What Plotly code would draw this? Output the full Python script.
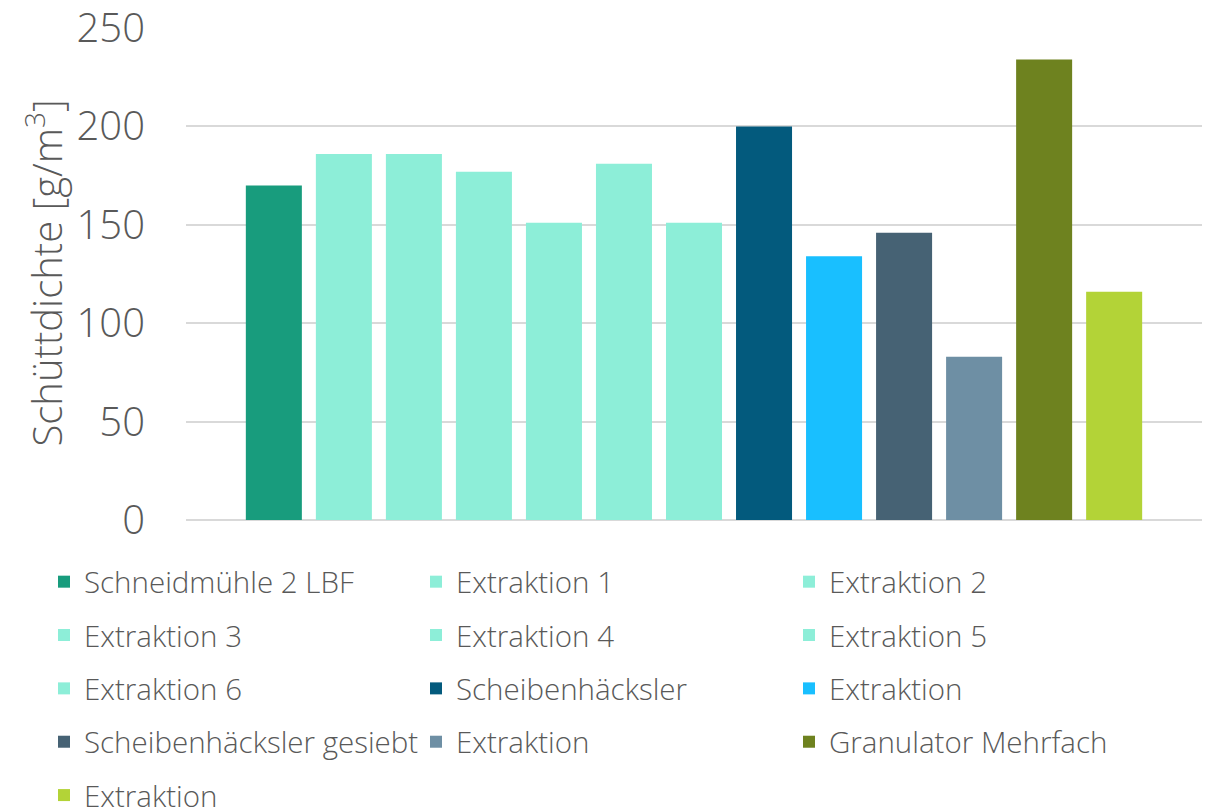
import plotly.graph_objects as go

# Bulk density per sample
labels = [
    "Schneidmühle 2 LBF", "Extraktion 1", "Extraktion 2", "Extraktion 3",
    "Extraktion 4", "Extraktion 5", "Extraktion 6", "Scheibenhäcksler",
    "Extraktion", "Scheibenhäcksler gesiebt", "Extraktion",
    "Granulator Mehrfach", "Extraktion",
]
values = [170, 186, 186, 177, 151, 181, 151, 200, 134, 146, 83, 234, 116]
colors = [
    "#189C7D", "#8DEED8", "#8DEED8", "#8DEED8", "#8DEED8", "#8DEED8",
    "#8DEED8", "#035A7D", "#19BFFF", "#466274", "#6E8FA4", "#6E821F",
    "#B3D337",
]
y_title = "Schüttdichte [g/m<sup>3</sup>]"
# legend column for each series (3 columns, filled row by row)
legend_ids = ["legend", "legend2", "legend3"]

FONT = "Open Sans"
TXT = "#595959"
W, H = 1209, 809

fig = go.Figure()
for i, (name, v, c) in enumerate(zip(labels, values, colors)):
    fig.add_trace(go.Bar(
        x=[""], y=[v], name=name,
        marker=dict(color=c, line=dict(width=0)),
        legend=legend_ids[i % 3],
        legendgroup=f"g{i}",
        hoverinfo="y+name",
    ))

legend_common = dict(
    orientation="v", yanchor="top", xanchor="left",
    xref="container", yref="container",
    y=1 - 556 / H, tracegroupgap=12, bgcolor="rgba(0,0,0,0)",
    font=dict(family=FONT, size=29.5, color=TXT, weight=300),
    itemclick=False, itemdoubleclick=False,
)

fig.update_layout(
    width=W, height=H,
    margin=dict(l=186, r=7, t=27, b=289, autoexpand=False),
    paper_bgcolor="white", plot_bgcolor="white",
    barmode="group", bargap=0.104, bargroupgap=0.2,
    showlegend=True,
    font=dict(family=FONT, color=TXT),
    legend=dict(x=44 / W, **legend_common),
    legend2=dict(x=416 / W, **legend_common),
    legend3=dict(x=789 / W, **legend_common),
    xaxis=dict(showticklabels=False, showgrid=False, zeroline=False,
               showline=False, ticks=""),
    yaxis=dict(
        range=[0, 250.5], dtick=50, tick0=0,
        showgrid=True, gridcolor="#D9D9D9", gridwidth=2,
        zeroline=True, zerolinecolor="#D9D9D9", zerolinewidth=2,
        showline=False, ticks="", ticklabelstandoff=40,
        ticklabeloverflow="allow",
        tickfont=dict(family=FONT, size=40, color=TXT, weight=300),
    ),
    annotations=[dict(
        text=y_title, textangle=-90,
        xref="paper", yref="paper", x=(45 - 186) / (W - 186 - 7), y=0.5,
        xanchor="center", yanchor="middle", showarrow=False,
        font=dict(family=FONT, size=40, color=TXT, weight=300),
    )],
)

fig.write_html("out.html")
